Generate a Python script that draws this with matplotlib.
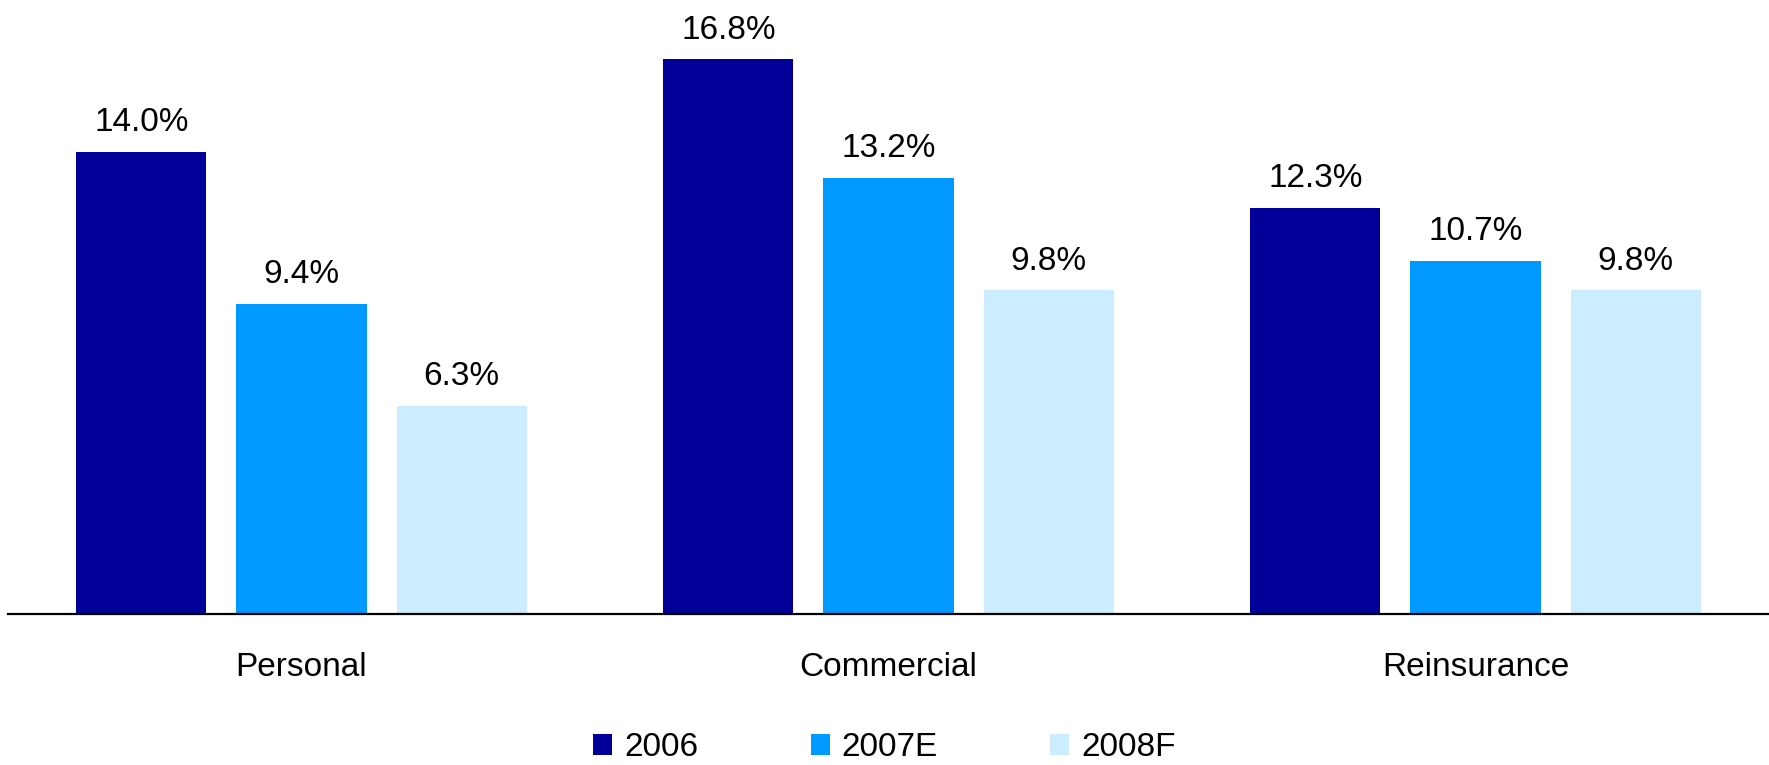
import numpy as np
import matplotlib.pyplot as plt

plt.rcParams['font.family'] = ['Liberation Sans', 'DejaVu Sans']

categories = ['Personal', 'Commercial', 'Reinsurance']
series_names = ['2006', '2007E', '2008F']
values_2006 = [14.0, 16.8, 12.3]
values_2007e = [9.4, 13.2, 10.7]
values_2008f = [6.3, 9.8, 9.8]
colors = ['#000099', '#0099FF', '#CCECFF']

fig = plt.figure(figsize=(17.69, 7.65), dpi=100)
ax = fig.add_axes([8 / 1769, 151 / 765, 1 - 8 / 1769, 1 - 151 / 765])

x = np.arange(len(categories))
width = 0.2215
step = 0.2726
bars = []
for i, (name, vals) in enumerate(zip(series_names, [values_2006, values_2007e, values_2008f])):
    b = ax.bar(x + (i - 1) * step, vals, width, color=colors[i], label=name, zorder=2)
    ax.bar_label(b, labels=['%.1f%%' % v for v in vals], padding=10, fontsize=24)
    bars.append(b)

ax.set_xlim(-0.5, 2.5)
ax.set_ylim(0, 18.6)
ax.set_xticks(x)
ax.set_xticklabels(categories, fontsize=24)
ax.tick_params(axis='x', length=0, pad=27)
ax.set_yticks([])
for s in ['top', 'left', 'right']:
    ax.spines[s].set_visible(False)
ax.spines['bottom'].set_linewidth(1.6)
ax.spines['bottom'].set_zorder(3)

fig.legend(handles=bars, labels=series_names, loc='center', bbox_to_anchor=(0.5, 17 / 765),
           ncol=3, frameon=False, fontsize=24, handlelength=0.57, handleheight=0.6,
           handletextpad=0.36, columnspacing=3.37, borderpad=0, borderaxespad=0)

fig.savefig('out.png', dpi=100)
